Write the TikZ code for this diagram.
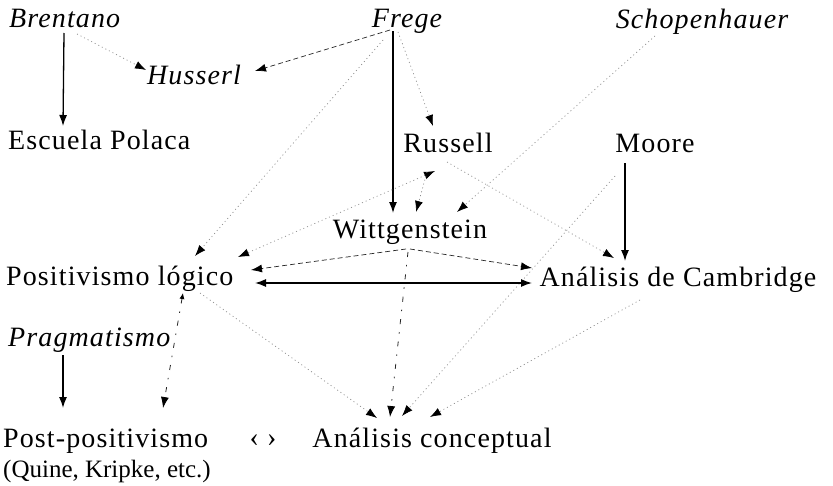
\documentclass[tikz,border=0pt]{standalone}
\usepackage{fontspec}
\setmainfont{Liberation Serif}[LetterSpace=4]
\newfontfamily\plainserif{Liberation Serif}
\usetikzlibrary{arrows.meta}
\begin{document}
\begin{tikzpicture}[x=1pt,y=-1pt,
  lbl/.style={inner sep=0pt, anchor=base, font=\fontsize{28}{32}\selectfont},
  itlbl/.style={lbl, font=\fontsize{28}{32}\selectfont\itshape},
  tipend/.style={-{Latex[length=11pt,width=8pt,black]}},
  solidarr/.style={tipend, line width=1.3pt, black},
  dotarr/.style={tipend, line width=0.7pt, black!45, dash pattern=on 1pt off 3pt},
  dasharr/.style={tipend, line width=0.7pt, black!85, dash pattern=on 5pt off 3pt},
  dashdotarr/.style={tipend, line width=0.8pt, black!85, dash pattern=on 5pt off 8pt on 1.5pt off 8pt},
  bothtips/.style={{Latex[length=11pt,width=8pt,black]}-{Latex[length=11pt,width=8pt,black]}},
]
\fill[white] (0,0) rectangle (833,485);

% nodes
\node[itlbl, anchor=base west] (bren) at (9,27) {Brentano};
\node[itlbl] (frege) at (407,27) {Frege};
\node[itlbl] (schop) at (702,28) {Schopenhauer};
\node[itlbl] (husserl) at (194,84) {Husserl};
\node[lbl, anchor=base west] (escuela) at (8,149) {Escuela Polaca};
\node[lbl] (russell) at (448,152) {Russell};
\node[lbl] (moore) at (655,152) {Moore};
\node[lbl] (witt) at (410,238) {Wittgenstein};
\node[lbl, anchor=base west] (posit) at (6,285) {Positivismo lógico};
\node[lbl] (camb) at (678,286) {Análisis de Cambridge};
\node[itlbl, anchor=base west] (prag) at (8,346) {Pragmatismo};
\node[lbl, anchor=base west] (post) at (3,447) {Post-positivismo};
\node[lbl, anchor=base west, font=\fontsize{25}{30}\selectfont\plainserif] (quine) at (3,477) {(Quine, Kripke, etc.)};
\node[lbl] (lr) at (263,446) {‹ ›};
\node[lbl] (concept) at (432,447) {Análisis conceptual};

% connectors
\draw[solidarr] ([shift={(55,6)}]bren.base west) -- ([shift={(55,-23)}]escuela.base west);
\draw[dotarr] ([shift={(68,7)}]bren.base west) -- ([shift={(-48,-14)}]husserl.base);
\draw[dasharr] ([shift={(-17,3)}]frege.base) -- ([shift={(61,-13)}]husserl.base);
\draw[solidarr] ([shift={(-14,4)}]frege.base) -- ([shift={(-17,-25)}]witt.base);
\draw[dotarr] ([shift={(-9,5)}]frege.base) -- ([shift={(-15,-26)}]russell.base);
\draw[dotarr] ([shift={(-24,13)}]frege.base) -- ([shift={(189,-29)}]posit.base west);
\draw[dotarr, bothtips] ([shift={(-13,19)}]russell.base) -- ([shift={(232,-28)}]posit.base west);
\draw[dotarr] ([shift={(-21,20)}]russell.base) -- ([shift={(6,-26)}]witt.base);
\draw[dotarr] ([shift={(-1,10)}]russell.base) -- ([shift={(-64,-28)}]camb.base);
\draw[dotarr] ([shift={(-47,8)}]schop.base) -- ([shift={(47,-26)}]witt.base);
\draw[solidarr] ([shift={(-30,11)}]moore.base) -- ([shift={(-53,-25)}]camb.base);
\draw[dotarr] ([shift={(-40,24)}]moore.base) -- ([shift={(-30,-31)}]concept.base);
\draw[dasharr] ([shift={(-4,11)}]witt.base) -- ([shift={(245,-15)}]posit.base west);
\draw[dasharr] ([shift={(0,11)}]witt.base) -- ([shift={(-146,-18)}]camb.base);
\draw[solidarr, bothtips] ([shift={(249,-2)}]posit.base west) -- ([shift={(-146,-3)}]camb.base);
\draw[dashdotarr] ([shift={(-2,14)}]witt.base) -- ([shift={(-42,-30)}]concept.base);
\draw[dashdotarr, {Latex[length=6pt,width=5pt,black]}-{Latex[length=11pt,width=8pt,black]}] ([shift={(177,8)}]posit.base west) -- ([shift={(160,-39)}]post.base west);
\draw[dotarr] ([shift={(194,8)}]posit.base west) -- ([shift={(-55,-29)}]concept.base);
\draw[dotarr] ([shift={(-38,14)}]camb.base) -- ([shift={(-2,-30)}]concept.base);
\draw[solidarr] ([shift={(55,9)}]prag.base west) -- ([shift={(60,-39)}]post.base west);
\end{tikzpicture}
\end{document}
